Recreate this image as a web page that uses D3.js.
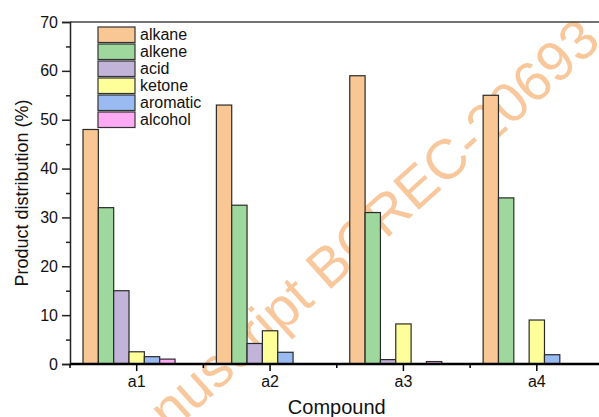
<!DOCTYPE html>
<html>
<head>
<meta charset="utf-8">
<script src="https://cdn.jsdelivr.net/npm/d3@7"></script>
<style>
  html, body { margin: 0; padding: 0; background: #fff; }
  svg { display: block; }
  text { font-family: "Liberation Sans", Arial, sans-serif; fill: #111; }
</style>
</head>
<body>
<svg id="chart" width="599" height="417"></svg>
<script>
const categories = ["a1", "a2", "a3", "a4"];
const seriesNames = ["alkane", "alkene", "acid", "ketone", "aromatic", "alcohol"];
const alkane   = [48, 53, 59, 55];
const alkene   = [32, 32.5, 31, 34];
const acid     = [15, 4.2, 0.9, 0];
const ketone   = [2.5, 6.8, 8.2, 9];
const aromatic = [1.5, 2.4, 0, 1.9];
const alcohol  = [1, 0, 0.5, 0];
const yTicks   = [0, 10, 20, 30, 40, 50, 60, 70];
const colors   = ["#F9C794", "#9ED89C", "#C2B3D8", "#FFFF99", "#99BBF2", "#FFAAF5"];

const seriesValues = [alkane, alkene, acid, ketone, aromatic, alcohol];

const svg = d3.select("#chart");
const mLeft = 70, mRight = 603.5, mTop = 22, mBottom = 364;

// watermark
svg.append("text")
  .attr("transform", "translate(603,44) rotate(-42)")
  .attr("text-anchor", "end")
  .style("font-size", "56px")
  .style("fill", "#F5A35A")
  .style("opacity", 0.6)
  .text("Accepted Manuscript BCREC-20693");

const x = d3.scaleBand().domain(categories).range([mLeft, mRight]).padding(0);
const groupW = x.bandwidth() * 0.805;
const xs = d3.scaleBand().domain(d3.range(7)).range([0, groupW]).padding(0);
const y = d3.scaleLinear().domain([0, 70]).range([mBottom, mTop]);

// frame top line
svg.append("line").attr("x1", mLeft).attr("x2", 599).attr("y1", y(70)).attr("y2", y(70))
  .attr("stroke", "#444").attr("stroke-width", 1.5);

// bars
const gBars = svg.append("g");
seriesValues.forEach((vals, si) => {
  gBars.selectAll(null).data(categories).enter().append("rect")
    .attr("x", c => x(c) + (x.bandwidth() - groupW) / 2 + xs(si))
    .attr("width", xs.bandwidth())
    .attr("y", (c, ci) => y(vals[ci]))
    .attr("height", (c, ci) => y(0) - y(vals[ci]))
    .attr("fill", colors[si])
    .attr("stroke", "#2a2a2a")
    .attr("stroke-width", 1.2)
    .style("display", (c, ci) => vals[ci] > 0 ? null : "none");
});

// y axis
const yAxis = d3.axisLeft(y).tickValues(yTicks).tickSize(8).tickPadding(4);
const gy = svg.append("g").attr("transform", `translate(${mLeft},0)`).call(yAxis);
gy.select(".domain").attr("stroke", "#222").attr("stroke-width", 1.5);
gy.selectAll(".tick line").attr("stroke", "#222").attr("stroke-width", 1.5);
gy.selectAll(".tick text").style("font-size", "16px").style("fill", "#111");
const yMinor = d3.axisLeft(y).tickValues(d3.range(5, 70, 10)).tickSize(4).tickFormat("");
const gym = svg.append("g").attr("transform", `translate(${mLeft},0)`).call(yMinor);
gym.select(".domain").remove();
gym.selectAll(".tick line").attr("stroke", "#222").attr("stroke-width", 1.5);

// x axis
const xAxis = d3.axisBottom(x).tickSize(7).tickPadding(5);
const gx = svg.append("g").attr("transform", `translate(0,${mBottom})`).call(xAxis);
gx.select(".domain").attr("stroke", "#000").attr("stroke-width", 2.5).attr("d", `M${mLeft},0H${mRight}`);
gx.selectAll(".tick line").attr("stroke", "#000").attr("stroke-width", 1.5);
gx.selectAll(".tick text").style("font-size", "16px").style("fill", "#111");
const gxm = svg.append("g").attr("transform", `translate(0,${mBottom})`);
gxm.selectAll("line").data(categories).enter().append("line")
  .attr("x1", c => x(c)).attr("x2", c => x(c)).attr("y1", 0).attr("y2", 4)
  .attr("stroke", "#000").attr("stroke-width", 1.5);

// axis titles
svg.append("text")
  .attr("x", (mLeft + mRight) / 2).attr("y", 414)
  .attr("text-anchor", "middle")
  .style("font-size", "20px")
  .text("Compound");
svg.append("text")
  .attr("transform", `translate(28,${(mTop + mBottom) / 2}) rotate(-90)`)
  .attr("text-anchor", "middle")
  .style("font-size", "18px")
  .text("Product distribution (%)");

// legend
const lg = svg.append("g").attr("transform", "translate(98,27)");
seriesNames.forEach((name, i) => {
  const row = lg.append("g").attr("transform", `translate(0,${i * 17})`);
  row.append("rect").attr("width", 37).attr("height", 15.5)
    .attr("fill", colors[i]).attr("stroke", "#333").attr("stroke-width", 1.2);
  row.append("text").attr("x", 42).attr("y", 12.5)
    .style("font-size", "16px").text(name);
});
</script>
</body>
</html>
